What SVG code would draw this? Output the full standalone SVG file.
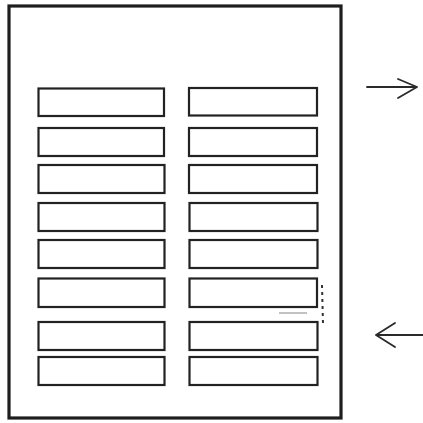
<svg xmlns="http://www.w3.org/2000/svg" width="423" height="423" viewBox="0 0 423 423">
<style>
.frame{fill:none;stroke:#1e1e1e;stroke-width:3.2}
.slot{fill:none;stroke:#222;stroke-width:2.2}
.arr{fill:none;stroke:#2a2a2a;stroke-width:1.8;stroke-linecap:round;stroke-linejoin:round}
.mark{fill:none;stroke:#333;stroke-width:2;stroke-dasharray:3 4}
.faint{fill:none;stroke:#999;stroke-width:1.2}
</style>
<rect width="423" height="423" fill="#fff"/>
<g id="frame"><rect class="frame" x="9" y="6" width="332" height="412"/></g>
<g id="slots-left">
<rect class="slot" x="38.5" y="88.5" width="125.5" height="27.5"/>
<rect class="slot" x="38.5" y="128" width="125.5" height="28"/>
<rect class="slot" x="38.5" y="165" width="126" height="28"/>
<rect class="slot" x="38.5" y="203" width="126" height="28"/>
<rect class="slot" x="38.5" y="240" width="126" height="28"/>
<rect class="slot" x="38.5" y="278.5" width="126" height="28.5"/>
<rect class="slot" x="38.5" y="322" width="126" height="28"/>
<rect class="slot" x="38.5" y="357" width="126" height="28"/>
</g>
<g id="slots-right">
<rect class="slot" x="189" y="88" width="128" height="27.5"/>
<rect class="slot" x="189" y="128" width="128" height="28"/>
<rect class="slot" x="189" y="165" width="128" height="28"/>
<rect class="slot" x="189.5" y="203" width="128" height="28"/>
<rect class="slot" x="189.5" y="240" width="128" height="28"/>
<rect class="slot" x="189.5" y="278.5" width="127.5" height="28.5"/>
<rect class="slot" x="189.5" y="322" width="128" height="28"/>
<rect class="slot" x="189.5" y="357" width="128" height="28"/>
</g>
<g id="marks">
<line class="mark" x1="322" y1="285" x2="323" y2="324"/>
<line class="faint" x1="279" y1="313" x2="307" y2="313"/>
</g>
<g id="connectors">
<path class="arr" d="M367 87 H417 M398 79 L417 87 L398 98"/>
<path class="arr" d="M376 335 H423 M395 323 L376 335 L395 347"/>
</g>
</svg>
